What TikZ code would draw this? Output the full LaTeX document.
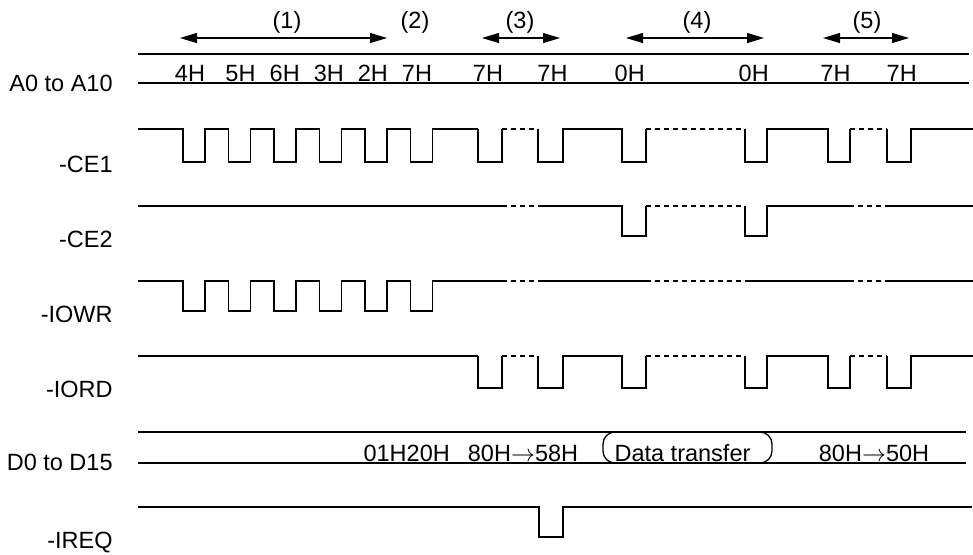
\documentclass[tikz,border=0pt]{standalone}
\usepackage{fontspec}
\setmainfont{Liberation Sans}
\usetikzlibrary{arrows.meta}
\begin{document}
\begin{tikzpicture}[x=0.5pt, y=-0.5pt,
  wave/.style={line width=0.65pt},
  idle/.style={line width=0.65pt, dash pattern=on 2.5pt off 2pt},
  sig/.style={anchor=east, inner sep=0pt, font=\fontsize{11.75}{14}\selectfont},
  val/.style={anchor=base, inner sep=0pt, font=\fontsize{11.75}{14}\selectfont},
  phase/.style={inner sep=0pt, font=\fontsize{11.75}{14}\selectfont},
  span/.style={line width=0.55pt, {Triangle[length=8.5pt,width=5pt]}-{Triangle[length=8.5pt,width=5pt]}}]
  \useasboundingbox (0,0) rectangle (973,554);

  % signal names
  \node[sig] (nA)    at (113,83)  {A0 to A10};
  \node[sig] (nCE1)  at (113,164) {-CE1};
  \node[sig] (nCE2)  at (113,239) {-CE2};
  \node[sig] (nIOWR) at (113,314) {-IOWR};
  \node[sig] (nIORD) at (113,389) {-IORD};
  \node[sig] (nD)    at (113,462) {D0 to D15};
  \node[sig] (nIREQ) at (113,542) {-IREQ};

  % phases
  \node[phase] (p1) at (287,22) {(1)};
  \node[phase] (p2) at (415,22) {(2)};
  \node[phase] (p3) at (520,22) {(3)};
  \node[phase] (p4) at (697,22) {(4)};
  \node[phase] (p5) at (867,22) {(5)};
  \draw[span] (180,38) -- (387,38);
  \draw[span] (482,38) -- (560,38);
  \draw[span] (626,38) -- (764,38);
  \draw[span] (823,38) -- (909,38);

  % address bus
  \draw[wave] (138,54) -- (969,54) (138,83) -- (969,83);
  \foreach \x/\t [count=\i] in {190/4H, 240.5/5H, 284.7/6H, 328.8/3H, 372.8/2H, 417/7H,
      488/7H, 552.5/7H, 629.7/0H, 753.7/0H, 835.5/7H, 901.7/7H}
    \node[val] (a\i) at (\x,81.5) {\t};

  % -CE1 and -IORD
  \draw[wave] (138,129) \foreach \f in {183,228.5,274,319.5,365,410.5}
    { -- (\f,129) -- (\f,162) -- (\f+22,162) -- (\f+22,129) } -- (478,129);
  \draw[wave] (138,356) -- (478,356);
  \foreach \h/\l in {129/162, 356/388} {
    \draw[wave] (478,\h) -- (478,\l) -- (502,\l) -- (502,\h);
    \draw[idle] (502,\h) -- (538,\h);
    \draw[wave] (538,\h) -- (538,\l) -- (563,\l) -- (563,\h) -- (622,\h) -- (622,\l) -- (646,\l) -- (646,\h);
    \draw[idle] (646,\h) -- (745,\h);
    \draw[wave] (745,\h) -- (745,\l) -- (767,\l) -- (767,\h) -- (828,\h) -- (828,\l) -- (850,\l) -- (850,\h);
    \draw[idle] (850,\h) -- (887,\h);
    \draw[wave] (887,\h) -- (887,\l) -- (911,\l) -- (911,\h) -- (973,\h);
  }

  % -CE2
  \draw[wave] (138,206) -- (502,206);
  \draw[idle] (502,206) -- (538,206);
  \draw[wave] (538,206) -- (622,206) -- (622,236) -- (646,236) -- (646,206);
  \draw[idle] (646,206) -- (745,206);
  \draw[wave] (745,206) -- (745,236) -- (767,236) -- (767,206) -- (849,206);
  \draw[idle] (849,206) -- (888,206);
  \draw[wave] (888,206) -- (973,206);

  % -IOWR
  \draw[wave] (138,281) \foreach \f in {183,228.5,274,319.5,365,410.5}
    { -- (\f,281) -- (\f,311) -- (\f+22,311) -- (\f+22,281) } -- (502,281);
  \draw[idle] (502,281) -- (538,281);
  \draw[wave] (538,281) -- (646,281);
  \draw[idle] (646,281) -- (745,281);
  \draw[wave] (745,281) -- (849,281);
  \draw[idle] (849,281) -- (888,281);
  \draw[wave] (888,281) -- (973,281);

  % data bus
  \draw[wave] (138,432) -- (966,432) (138,463) -- (966,463);
  \draw[wave, rounded corners=6pt] (603,432) rectangle (772,463);
  \node[val] (d1) at (406.7,461.5) {01H20H};
  \node[val] (d2) at (523,461.5) {80H$\rightarrow$58H};
  \node[val] (d3) at (682.5,461.5) {Data transfer};
  \node[val] (d4) at (874,461.5) {80H$\rightarrow$50H};

  % -IREQ
  \draw[wave] (138,507) -- (539,507) -- (539,537) -- (563,537) -- (563,507) -- (972,507);
\end{tikzpicture}
\end{document}
